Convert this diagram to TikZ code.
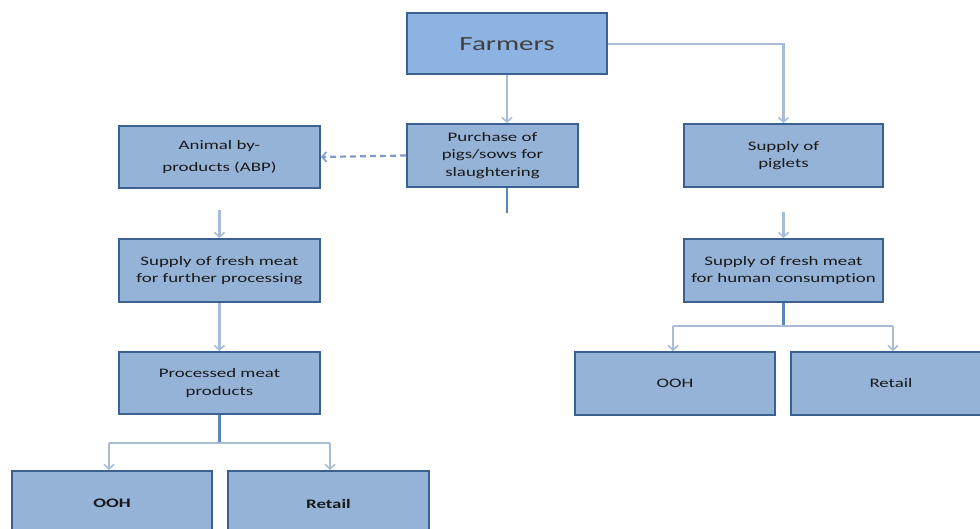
\documentclass[tikz,border=0pt]{standalone}
\usepackage{fontspec}
\setmainfont{Carlito}[FakeStretch=1.45, Ligatures=NoCommon]
\usetikzlibrary{arrows.meta}
\definecolor{boxfill}{HTML}{95B3D7}
\definecolor{farmfill}{HTML}{8DB3E2}
\definecolor{boxdraw}{HTML}{3B6192}
\definecolor{lightline}{HTML}{A9BCD6}
\definecolor{darkline}{HTML}{5A85BD}
\definecolor{dashline}{HTML}{7E9CC8}
\begin{document}
\begin{tikzpicture}[x=1pt,y=-1pt,
  box/.style={draw=boxdraw, fill=boxfill, line width=2pt, inner sep=2pt,
    align=center, font=\fontsize{13}{17.5}\selectfont, text=black!90},
  conn/.style={draw=lightline, line width=2.2pt},
  dconn/.style={draw=darkline, line width=2.2pt},
  tip/.style={-{Straight Barb[length=4.5pt,width=10pt,line width=1.6pt]}}
]
\useasboundingbox (0,0) rectangle (980,529);
\clip (0,0) rectangle (980,529);
% nodes
\node[box, fill=farmfill, minimum width=200pt, minimum height=61pt,
  font=\fontsize{20}{24}\selectfont, text=black!75] (farm) at (507,44) {Farmers};
\node[box, minimum width=171pt, minimum height=63pt] (purch) at (492.5,155.5)
  {Purchase of\\pigs/sows for\\slaughtering};
\node[box, minimum width=201pt, minimum height=62pt, font=\fontsize{13}{22}\selectfont] (abp) at (219.5,157)
  {Animal by-\\products (ABP)};
\node[box, minimum width=199pt, minimum height=63pt] (pig) at (783.5,155.5)
  {Supply of\\piglets};
\node[box, minimum width=201pt, minimum height=63pt] (fm1) at (219.5,270.5)
  {Supply of fresh meat\\for further processing};
\node[box, minimum width=201pt, minimum height=62pt] (proc) at (219.5,383)
  {Processed meat\\products};
\node[box, minimum width=200pt, minimum height=110pt, font=\bfseries\fontsize{13}{16}\selectfont] (ooh1) at (112,526) {\raisebox{45pt}{OOH}};
\node[box, minimum width=201pt, minimum height=110pt, font=\bfseries\fontsize{13}{16}\selectfont] (ret1) at (328.5,526) {\raisebox{45pt}{Retail}};
\node[box, minimum width=199pt, minimum height=63pt] (fm2) at (783.5,270.5)
  {Supply of fresh meat\\for human consumption};
\node[box, minimum width=200pt, minimum height=63pt] (ooh2) at (675,383.5) {OOH};
\node[box, minimum width=200pt, minimum height=63pt] (ret2) at (891,383.5) {Retail};
% coordinates
\coordinate (stub) at (507,213);
\coordinate (a1) at (219.5,210);
\coordinate (j1) at (219.5,443);
\coordinate (l1) at (109,443);
\coordinate (r1) at (330,443);
\coordinate (a2) at (783.5,212);
\coordinate (j2) at (783.5,326);
\coordinate (l2) at (673,326);
\coordinate (r2) at (893,326);
% connectors
\draw[conn,tip] (farm.south) -- (farm.south |- purch.north);
\draw[conn,tip] (farm.east) -| (pig.north);
\draw[draw=dashline, line width=2.2pt, dash pattern=on 6pt off 4pt, tip] (purch.west) -- (abp.east);
\draw[dconn] (farm.south |- purch.south) -- (stub);
\draw[conn,tip] (a1) -- (fm1.north);
\draw[conn,tip] (fm1.south) -- (proc.north);
\draw[dconn] (proc.south) -- (j1);
\draw[conn] (l1) -- (r1);
\draw[conn,tip] (l1) -- (l1 |- ooh1.north);
\draw[conn,tip] (r1) -- (r1 |- ret1.north);
\draw[conn,tip] (a2) -- (fm2.north);
\draw[dconn] (fm2.south) -- (j2);
\draw[conn] (l2) -- (r2);
\draw[conn,tip] (l2) -- (l2 |- ooh2.north);
\draw[conn,tip] (r2) -- (r2 |- ret2.north);
\end{tikzpicture}
\end{document}
